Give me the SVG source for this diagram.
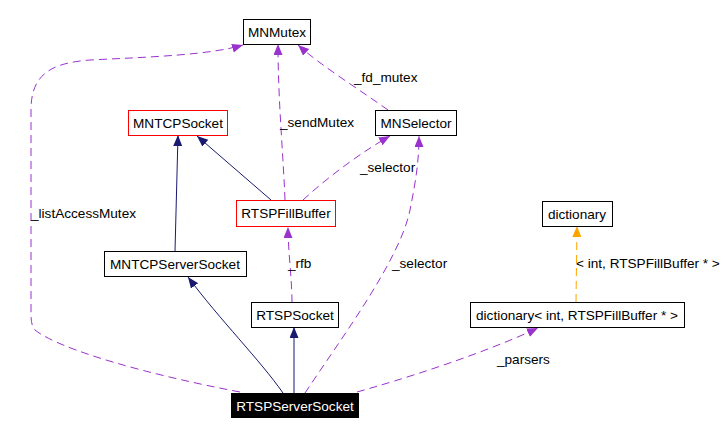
<svg xmlns="http://www.w3.org/2000/svg" width="727" height="435" viewBox="0 0 727 435">
<style>
text{font-family:"Liberation Sans",Arial,sans-serif;font-size:13.6px;fill:#000}
.n{text-anchor:middle}
.box{fill:#fff;stroke:#000;stroke-width:1}
.red{fill:#fff;stroke:#ff0000;stroke-width:1}
.inh{fill:none;stroke:#191970;stroke-width:1}
.use{fill:none;stroke:#9a32cd;stroke-width:1;stroke-dasharray:8,5}
.tpl{fill:none;stroke:#ffa500;stroke-width:1;stroke-dasharray:8,5}
</style>
<defs>
<marker id="aN" markerUnits="userSpaceOnUse" markerWidth="12" markerHeight="10" refX="11" refY="4.5" orient="auto"><path d="M0,0 L11,4.5 L0,9 z" fill="#191970"/></marker>
<marker id="aP" markerUnits="userSpaceOnUse" markerWidth="12" markerHeight="10" refX="11" refY="4.5" orient="auto"><path d="M0,0 L11,4.5 L0,9 z" fill="#9a32cd"/></marker>
<marker id="aO" markerUnits="userSpaceOnUse" markerWidth="12" markerHeight="10" refX="11" refY="4.5" orient="auto"><path d="M0,0 L11,4.5 L0,9 z" fill="#ffa500"/></marker>
</defs>
<rect width="727" height="435" fill="#fff"/>
<g id="connectors">
<path class="inh" d="M175,251 L178,135" marker-end="url(#aN)"/>
<path class="inh" d="M271,200 L197,136" marker-end="url(#aN)"/>
<path class="inh" d="M283,393 C260,360 220,320 188,277" marker-end="url(#aN)"/>
<path class="inh" d="M294,393 L294,327" marker-end="url(#aN)"/>
<path class="use" d="M285,200 C283,150 278,100 278,44" marker-end="url(#aP)"/>
<path class="use" d="M388,110 C360,90 320,65 298,45" marker-end="url(#aP)"/>
<path class="use" d="M303,200 C330,175 365,150 390,136" marker-end="url(#aP)"/>
<path class="use" d="M292,302 C292,280 288,250 288,227" marker-end="url(#aP)"/>
<path class="use" d="M305,393 C340,340 400,260 410,210 C416,180 419,160 419,136" marker-end="url(#aP)"/>
<path class="use" d="M240,392 C150,375 60,350 35,330 C31,325 31,320 31,310 L31,110 C31,75 50,63 90,60 C150,57 210,55 243,45" marker-end="url(#aP)"/>
<path class="use" d="M357,392 C400,380 480,355 538,328" marker-end="url(#aP)"/>
<path class="tpl" d="M576,302 L577,226" marker-end="url(#aO)"/>
<text x="354" y="82">_fd_mutex</text>
<text x="280" y="127">_sendMutex</text>
<text x="360" y="172">_selector</text>
<text x="31" y="218">_listAccessMutex</text>
<text x="288" y="268">_rfb</text>
<text x="392" y="268">_selector</text>
<text x="576" y="268">&lt; int, RTSPFillBuffer * &gt;</text>
<text x="497" y="364">_parsers</text>
</g>
<g id="MNMutex"><rect class="box" x="243.5" y="19.5" width="67" height="25"/><text class="n" x="277" y="37">MNMutex</text></g>
<g id="MNTCPSocket"><rect class="red" x="128.5" y="110.5" width="99" height="25"/><text class="n" x="178" y="128">MNTCPSocket</text></g>
<g id="MNSelector"><rect class="box" x="375.5" y="110.5" width="81" height="25"/><text class="n" x="416" y="128">MNSelector</text></g>
<g id="RTSPFillBuffer"><rect class="red" x="236.5" y="200.5" width="99" height="26"/><text class="n" x="286" y="218">RTSPFillBuffer</text></g>
<g id="dictionary"><rect class="box" x="542.5" y="201.5" width="70" height="25"/><text class="n" x="577" y="219">dictionary</text></g>
<g id="MNTCPServerSocket"><rect class="box" x="104.5" y="251.5" width="142" height="25"/><text class="n" x="175" y="269">MNTCPServerSocket</text></g>
<g id="RTSPSocket"><rect class="box" x="251.5" y="302.5" width="87" height="25"/><text class="n" x="295" y="320">RTSPSocket</text></g>
<g id="dictionaryIntRTSPFillBuffer"><rect class="box" x="470.5" y="302.5" width="214" height="25"/><text class="n" x="577" y="320">dictionary&lt; int, RTSPFillBuffer * &gt;</text></g>
<g id="RTSPServerSocket"><rect x="231" y="393" width="128" height="25" fill="#000"/><text class="n" x="295" y="411" style="fill:#fff">RTSPServerSocket</text></g>
</svg>
